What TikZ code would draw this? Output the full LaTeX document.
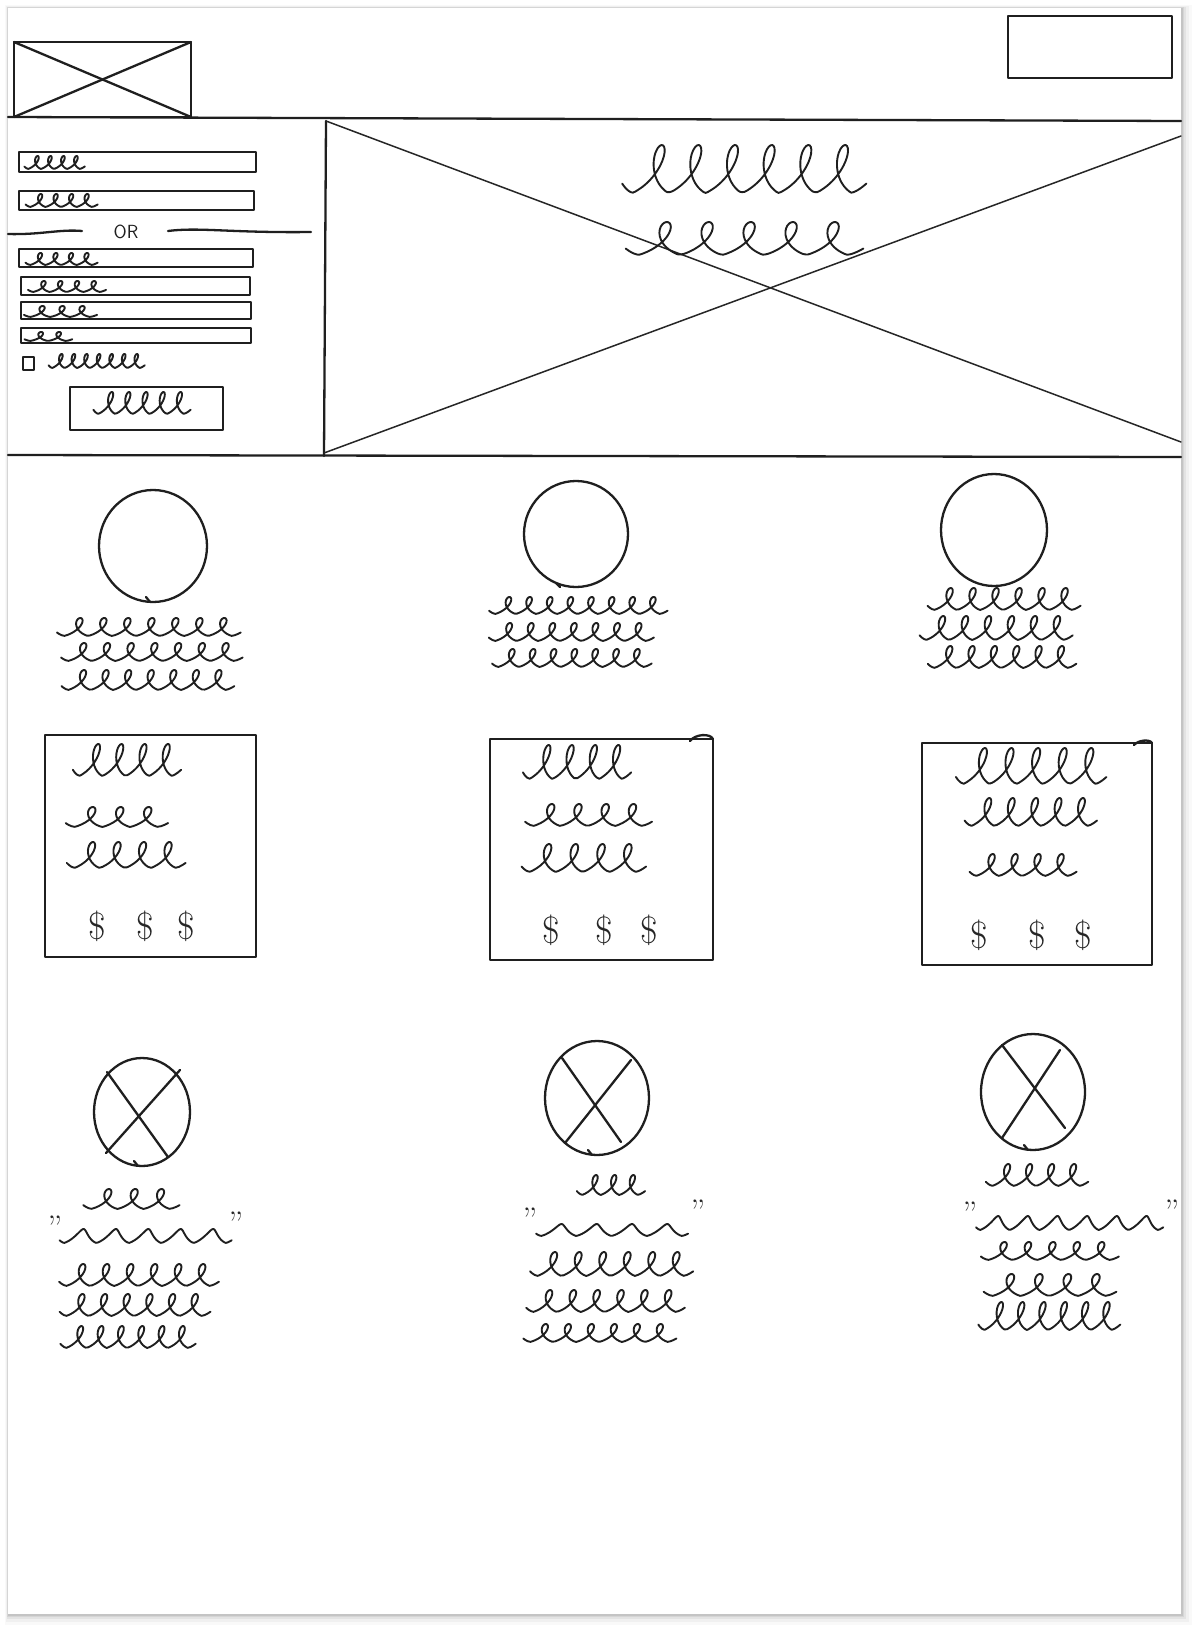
\documentclass[tikz,border=0pt]{standalone}
\usepackage{fontspec}
\tikzset{
 pen/.style={line width=2.3pt, line cap=round, line join=round, draw=black!88},
 fine/.style={line width=1.5pt, line cap=round, draw=black!85},
 ink/.style={line width=1.9pt, line cap=round, line join=round, draw=black!88},
 hand/.style={font=\sffamily\fontsize{19}{19}\selectfont, text=black!88, inner sep=0pt},
 dollar/.style={font=\fontsize{38}{38}\selectfont, text=black!85, inner sep=0pt},
 quot/.style={font=\fontsize{34}{34}\selectfont, text=black!85, inner sep=0pt}
}
% scribble: [loop factor]{x start}{x end}{baseline}{loops}{height}
\newcommand\scrib[6][0.34]{%
 \pgfmathsetmacro\sP{(#3-#2)/#5}%
 \pgfmathsetmacro\sE{#5*360+40}%
 \pgfmathtruncatemacro\sN{#5*26+4}%
 \draw[ink] plot[domain=-40:\sE, samples=\sN, smooth] ({#2 + \sP*(\x/360) + #1*\sP*sin(\x) + 0.24*#6*(0.65*(1-cos(\x))/2+0.35*abs(sin(\x/2)))}, {#4 - #6*(0.65*(1-cos(\x))/2+0.35*abs(sin(\x/2)))});%
}
\begin{document}
\begin{tikzpicture}[x=1pt, y=-1pt]
\useasboundingbox (0,0) rectangle (1198,1630);
\fill[white] (0,0) rectangle (1198,1630);
% paper shadow
\foreach \d/\op in {11/0.025,8/0.035,5/0.05,3/0.06,1.5/0.08}
  \fill[black,opacity=\op] (8-\d*0.25,8-\d*0.25) rectangle (1181+\d,1614+\d);
\fill[white] (8,8) rectangle (1181,1614);

% ---------------- header
\draw[pen] (14,42) rectangle (191,117);
\draw[pen] (14,42) -- (191,117);
\draw[pen] (14,117) -- (191,42);
\draw[pen] (1008,16) rectangle (1172,78);
\draw[pen] (8,117) -- (1181,121);

% ---------------- hero
\draw[pen] (326,121) -- (324,456);
\draw[fine] (326,121) -- (1181,442);
\draw[fine] (324,453) -- (1181,136);
\draw[pen] (8,455) -- (1181,457);
\scrib{632}{852}{193}{6}{48}
\scrib{638}{848}{255}{5}{33}

% ---------------- form
\draw[pen] (19,152) rectangle (256,172);
\scrib{28}{80}{169}{4}{13}
\draw[pen] (19,191) rectangle (254,210);
\scrib{30}{92}{207}{4}{13}
\draw[pen] (8,234) .. controls (40,235) and (60,229) .. (82,231);
\node[hand] (or) at (126,232) {OR};
\draw[pen] (168,231) .. controls (200,227) and (230,233) .. (311,232);
\draw[pen] (19,249) rectangle (253,267);
\scrib{30}{92}{265}{4}{12}
\draw[pen] (21,277) rectangle (250,295);
\scrib{33}{100}{292}{4}{11}
\draw[pen] (21,302) rectangle (251,319);
\scrib{30}{90}{317}{3}{11}
\draw[pen] (21,328) rectangle (251,343);
\scrib{30}{66}{341}{2}{9}
\draw[pen] (23,357) rectangle (34,370);
\scrib{52}{140}{368}{7}{14}
\draw[pen] (70,387) rectangle (223,430);
\scrib{98}{184}{414}{5}{22}

% ---------------- feature circles
\draw[pen] (153,546) ellipse [x radius=54, y radius=56];
\draw[pen] (150,602) -- (146,597);
\scrib{64}{232}{636}{7}{18}
\scrib{68}{234}{661}{7}{18}
\scrib{68}{226}{690}{7}{20}

\draw[pen] (576,534) ellipse [x radius=52, y radius=53];
\draw[pen] (560,587) -- (556,583);
\scrib{495}{660}{614}{8}{17}
\scrib{495}{646}{641}{7}{18}
\scrib{498}{644}{667}{7}{18}

\draw[pen] (994,530) ellipse [x radius=53, y radius=56];
\scrib{934}{1072}{610}{6}{22}
\scrib{926}{1064}{640}{6}{24}
\scrib{934}{1068}{668}{6}{22}

% ---------------- price boxes
\draw[pen] (45,735) rectangle (256,957);
\scrib{79}{172}{776}{4}{32}
\scrib{74}{158}{827}{3}{20}
\scrib{74}{176}{868}{4}{26}
\node[dollar] (p11) at (97,926) {\$};
\node[dollar] (p12) at (145,926) {\$};
\node[dollar] (p13) at (186,926) {\$};

\draw[pen] (490,739) rectangle (713,960);
\draw[pen] (690,741) .. controls (695,734) and (710,733) .. (713,739);
\scrib{529}{622}{779}{4}{34}
\scrib{533}{642}{826}{4}{22}
\scrib{529}{636}{872}{4}{28}
\node[dollar] (p21) at (551,930) {\$};
\node[dollar] (p22) at (604,930) {\$};
\node[dollar] (p23) at (649,930) {\$};

\draw[pen] (922,743) rectangle (1152,965);
\draw[pen] (1134,745) .. controls (1138,740) and (1150,739) .. (1152,743);
\scrib{963}{1096}{784}{5}{36}
\scrib{971}{1088}{826}{5}{28}
\scrib{976}{1068}{876}{4}{22}
\node[dollar] (p31) at (979,935) {\$};
\node[dollar] (p32) at (1037,935) {\$};
\node[dollar] (p33) at (1083,935) {\$};

% ---------------- testimonials
\draw[pen] (142,1112) ellipse [x radius=48, y radius=54];
\draw[pen] (107,1072) -- (168,1157);
\draw[pen] (180,1070) -- (106,1153);
\draw[pen] (138,1166) -- (134,1161);
\scrib{91}{170}{1209}{3}{20}
\node[quot] (q1l) at (55,1228) {''};
\scrib[0.07]{64}{226}{1243}{5}{14}
\node[quot] (q1r) at (236,1224) {''};
\scrib{66}{210}{1286}{6}{22}
\scrib{66}{202}{1316}{6}{22}
\scrib{66}{188}{1348}{6}{22}

\draw[pen] (597,1098) ellipse [x radius=52, y radius=57];
\draw[pen] (562,1058) -- (621,1142);
\draw[pen] (631,1060) -- (565,1143);
\draw[pen] (592,1155) -- (588,1150);
\scrib{582}{638}{1195}{3}{20}
\node[quot] (q2l) at (530,1220) {''};
\scrib[0.07]{541}{682}{1236}{4}{12}
\node[quot] (q2r) at (698,1212) {''};
\scrib{537}{684}{1276}{6}{24}
\scrib{533}{676}{1312}{6}{22}
\scrib{530}{668}{1342}{6}{18}

\draw[pen] (1033,1092) ellipse [x radius=52, y radius=58];
\draw[pen] (1002,1045) -- (1065,1128);
\draw[pen] (1060,1050) -- (1002,1138);
\draw[pen] (1028,1150) -- (1024,1145);
\scrib{992}{1080}{1186}{4}{22}
\node[quot] (q3l) at (970,1214) {''};
\scrib[0.07]{980}{1158}{1230}{6}{14}
\node[quot] (q3r) at (1172,1212) {''};
\scrib{988}{1110}{1260}{5}{18}
\scrib{992}{1106}{1296}{4}{22}
\scrib{984}{1112}{1330}{6}{28}
\end{tikzpicture}
\end{document}
